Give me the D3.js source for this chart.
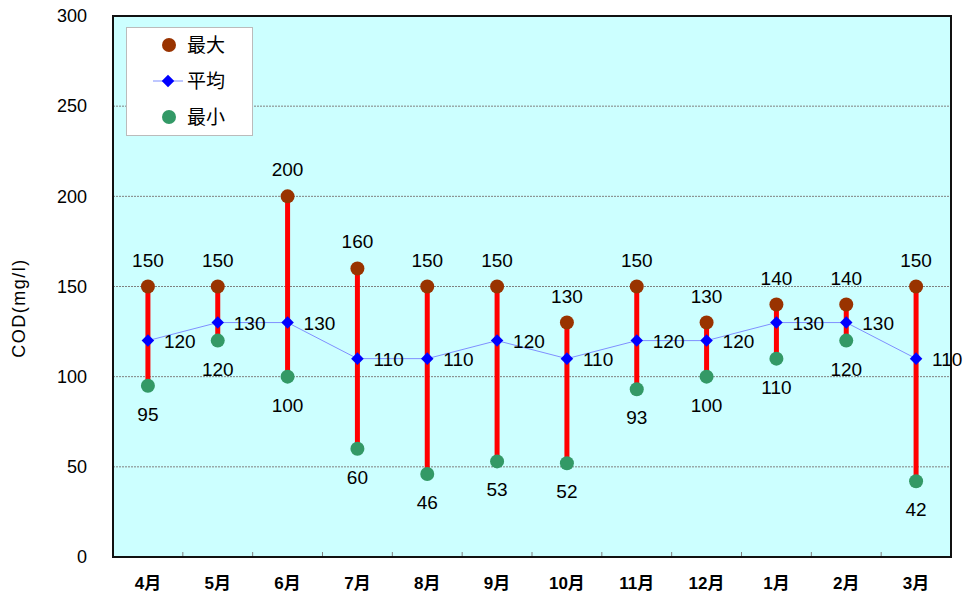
<!DOCTYPE html>
<html>
<head>
<meta charset="utf-8">
<script src="https://cdn.jsdelivr.net/npm/d3@7"></script>
<style>
  body { margin: 0; background: #fff; }
  svg { display: block; }
  text { font-family: "Liberation Sans", "Noto Sans CJK JP", sans-serif; fill: #000; }
</style>
</head>
<body>
<svg id="chart" width="968" height="602"></svg>
<script>
// Monthly COD readings (mg/l)
const months = ["4月","5月","6月","7月","8月","9月","10月","11月","12月","1月","2月","3月"];
const maxValues = [150,150,200,160,150,150,130,150,130,140,140,150];
const avgValues = [120,130,130,110,110,120,110,120,120,130,130,110];
const minValues = [95,120,100,60,46,53,52,93,100,110,120,42];
const yTicks = [0,50,100,150,200,250,300];
const seriesNames = ["最大","平均","最小"];

const colors = { max: "#993300", avg: "#0000ff", avgLine: "#7f8fff", min: "#339966", bar: "#ff0000", bg: "#ccffff" };

const svg = d3.select("#chart");
const m = { left: 113, right: 17, top: 16, bottom: 45 };
const W = 968, H = 602;
const pw = W - m.left - m.right, ph = H - m.top - m.bottom;

const x = d3.scaleBand().domain(months).range([m.left, m.left + pw]).padding(0);
const y = d3.scaleLinear().domain([0, 300]).range([m.top + ph, m.top]);
const cx = d => x(d) + x.bandwidth() / 2;

// plot background
svg.append("rect").attr("x", m.left).attr("y", m.top).attr("width", pw).attr("height", ph)
  .attr("fill", colors.bg);

// horizontal gridlines
svg.append("g").selectAll("line").data(yTicks.filter(t => t > 0 && t < 300)).join("line")
  .attr("x1", m.left).attr("x2", m.left + pw)
  .attr("y1", d => y(d)).attr("y2", d => y(d))
  .attr("stroke", "#808080").attr("stroke-width", 1).attr("stroke-dasharray", "2,1");

// y axis labels
const yAxis = d3.axisLeft(y).tickValues(yTicks).tickSize(0).tickPadding(26);
const gy = svg.append("g").attr("transform", `translate(${m.left},0)`).call(yAxis);
gy.select(".domain").remove();
gy.selectAll("text").style("font-size", "18px").attr("font-family", null);

// x axis: inner tick marks between categories
const gx = svg.append("g");
gx.selectAll("line").data(months.slice(1)).join("line")
  .attr("x1", d => x(d)).attr("x2", d => x(d))
  .attr("y1", m.top + ph).attr("y2", m.top + ph - 5)
  .attr("stroke", "#808080").attr("stroke-width", 1);
gx.selectAll("text").data(months).join("text")
  .attr("x", d => cx(d)).attr("y", m.top + ph + 32)
  .attr("text-anchor", "middle").style("font-size", "17px").style("font-weight", "bold")
  .text(d => d);

// frame
svg.append("rect").attr("x", m.left).attr("y", m.top).attr("width", pw).attr("height", ph)
  .attr("fill", "none").attr("stroke", "#111").attr("stroke-width", 2);

// axis title
svg.append("text")
  .attr("transform", `translate(25,308) rotate(-90)`)
  .attr("text-anchor", "middle").style("font-size", "18px").style("letter-spacing", "1.5px")
  .text("COD(mg/l)");

const rows = months.map((mo, i) => ({ mo, max: maxValues[i], avg: avgValues[i], min: minValues[i] }));

// range bars from min to max
svg.append("g").selectAll("line").data(rows).join("line")
  .attr("x1", d => cx(d.mo)).attr("x2", d => cx(d.mo))
  .attr("y1", d => y(d.max)).attr("y2", d => y(d.min))
  .attr("stroke", colors.bar).attr("stroke-width", 5);

// average line
const line = d3.line().x(d => cx(d.mo)).y(d => y(d.avg));
svg.append("path").datum(rows).attr("d", line)
  .attr("fill", "none").attr("stroke", colors.avgLine).attr("stroke-width", 1);

const diamond = d3.symbol().type(d3.symbolDiamond2).size(100);

// markers
svg.append("g").selectAll("circle").data(rows).join("circle")
  .attr("cx", d => cx(d.mo)).attr("cy", d => y(d.max)).attr("r", 7).attr("fill", colors.max);
svg.append("g").selectAll("circle").data(rows).join("circle")
  .attr("cx", d => cx(d.mo)).attr("cy", d => y(d.min)).attr("r", 7).attr("fill", colors.min);
svg.append("g").selectAll("path").data(rows).join("path")
  .attr("transform", d => `translate(${cx(d.mo)},${y(d.avg)})`)
  .attr("d", diamond).attr("fill", colors.avg);

// value labels
const lab = svg.append("g").style("font-size", "19px");
lab.selectAll(".lmax").data(rows).join("text").attr("class", "lmax")
  .attr("x", d => cx(d.mo)).attr("y", d => y(d.max) - 20)
  .attr("text-anchor", "middle").text(d => d.max);
lab.selectAll(".lavg").data(rows).join("text").attr("class", "lavg")
  .attr("x", d => cx(d.mo) + 16).attr("y", d => y(d.avg) + 7)
  .attr("text-anchor", "start").text(d => d.avg);
lab.selectAll(".lmin").data(rows).join("text").attr("class", "lmin")
  .attr("x", d => cx(d.mo)).attr("y", d => y(d.min) + 35)
  .attr("text-anchor", "middle").text(d => d.min);

// legend
const lg = svg.append("g");
lg.append("rect").attr("x", 126.5).attr("y", 27.5).attr("width", 126).attr("height", 108)
  .attr("fill", "#fff").attr("stroke", "#bbb").attr("stroke-width", 1);
const ly = [45, 81, 117];
lg.append("circle").attr("cx", 169).attr("cy", ly[0]).attr("r", 7).attr("fill", colors.max);
lg.append("line").attr("x1", 153).attr("x2", 183).attr("y1", ly[1]).attr("y2", ly[1])
  .attr("stroke", colors.avgLine).attr("stroke-width", 1);
lg.append("path").attr("transform", `translate(168,${ly[1]})`).attr("d", diamond).attr("fill", colors.avg);
lg.append("circle").attr("cx", 169).attr("cy", ly[2]).attr("r", 7).attr("fill", colors.min);
lg.selectAll("text").data(seriesNames).join("text")
  .attr("x", 187).attr("y", (d, i) => ly[i] + 7)
  .style("font-size", "19px").text(d => d);
</script>
</body>
</html>
